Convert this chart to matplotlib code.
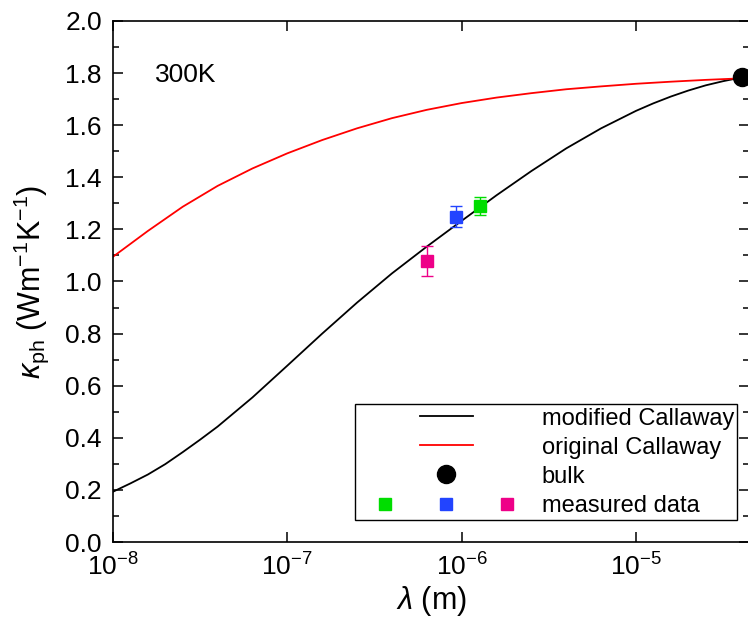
import matplotlib
matplotlib.use('Agg')
import matplotlib.pyplot as plt
import numpy as np
from matplotlib.lines import Line2D
from matplotlib.legend_handler import HandlerTuple
from matplotlib.ticker import MultipleLocator, NullLocator, FormatStrFormatter

plt.rcParams['font.family'] = ['Liberation Sans', 'DejaVu Sans']
plt.rcParams['mathtext.fontset'] = 'custom'
plt.rcParams['mathtext.rm'] = 'Liberation Sans'
plt.rcParams['mathtext.it'] = 'Liberation Sans:italic'
plt.rcParams['mathtext.bf'] = 'Liberation Sans:bold'

# ---- data (x given as log10 of lambda in m) ----
mod_log_lambda = [-8.0, -7.9, -7.8, -7.7, -7.6, -7.5, -7.4, -7.2, -7.0, -6.8, -6.6,
                  -6.4, -6.2, -6.0, -5.8, -5.6, -5.4, -5.2, -5.0, -4.9, -4.8,
                  -4.7, -4.6, -4.5, -4.389]
mod_kappa = [0.193, 0.225, 0.259, 0.299, 0.345, 0.393, 0.443, 0.555, 0.677, 0.800, 0.919,
             1.031, 1.134, 1.233, 1.331, 1.424, 1.511, 1.588, 1.655, 1.684, 1.710,
             1.733, 1.753, 1.769, 1.784]

orig_log_lambda = [-8.0, -7.8, -7.6, -7.4, -7.2, -7.0, -6.8, -6.6, -6.4, -6.2, -6.0,
                   -5.8, -5.6, -5.4, -5.2, -5.0, -4.8, -4.6, -4.389]
orig_kappa = [1.095, 1.194, 1.287, 1.367, 1.434, 1.492, 1.543, 1.588, 1.627, 1.659, 1.685,
              1.706, 1.723, 1.738, 1.749, 1.759, 1.767, 1.774, 1.780]

bulk_lambda = [4.08e-5]
bulk_kappa = [1.785]

meas_lambda = [1.27e-6, 9.3e-7, 6.35e-7]
meas_kappa = [1.291, 1.249, 1.079]
meas_err = [0.035, 0.040, 0.058]
meas_colors = ['#00dd00', '#2244ff', '#ee0088']

xtick_vals = [1e-8, 1e-7, 1e-6, 1e-5]
legend_labels = ['modified Callaway', 'original Callaway', 'bulk', 'measured data']

# ---- figure ----
fig = plt.figure(figsize=(7.48, 6.21), dpi=100)
ax = fig.add_axes([113/748, (621-542)/621, (749-113)/748, (542-21)/621])

ax.plot(10.0**np.array(mod_log_lambda), mod_kappa, color='black', lw=1.3)
ax.plot(10.0**np.array(orig_log_lambda), orig_kappa, color='#ff0000', lw=1.3)
ax.plot(bulk_lambda, bulk_kappa, 'o', color='black', ms=13, clip_on=False, zorder=5)
for lx, k, e, c in zip(meas_lambda, meas_kappa, meas_err, meas_colors):
    ax.errorbar([lx], [k], yerr=[e], fmt='s', color=c, ecolor=c, ms=9,
                capsize=4.5, elinewidth=1, capthick=1, zorder=4)

ax.set_xscale('log')
ax.set_xlim(1e-8, 4.45e-5)
ax.set_ylim(0, 2.0)
ax.set_xticks(xtick_vals)
ax.xaxis.set_minor_locator(NullLocator())
ax.yaxis.set_major_locator(MultipleLocator(0.2))
ax.yaxis.set_minor_locator(MultipleLocator(0.1))
ax.yaxis.set_major_formatter(FormatStrFormatter('%.1f'))
ax.tick_params(which='both', direction='in', top=True, right=True, width=1.1)
ax.tick_params(which='major', length=7, labelsize=19, pad=8)
ax.tick_params(which='minor', length=4)
for s in ax.spines.values():
    s.set_linewidth(1.2)

ax.set_xlabel(r'$\lambda$ (m)', fontsize=22, labelpad=3)
ax.set_ylabel(r'$\kappa_{\rm ph}$ (Wm$^{-1}$K$^{-1}$)', fontsize=22, labelpad=10)

ax.text(0.066, 0.896, '300K', transform=ax.transAxes, fontsize=19,
        ha='left', va='center')

# ---- legend ----
empty = Line2D([], [], linestyle='none', marker=None)
h_mod = (empty, Line2D([], [], color='black', lw=1.3), empty)
h_orig = (empty, Line2D([], [], color='#ff0000', lw=1.3), empty)
h_bulk = (empty, Line2D([], [], linestyle='none', marker='o', color='black', ms=13), empty)
h_meas = tuple(Line2D([], [], linestyle='none', marker='s', color=c, ms=9) for c in meas_colors)

leg = fig.legend([h_mod, h_orig, h_bulk, h_meas], legend_labels,
                 handler_map={tuple: HandlerTuple(ndivide=None, pad=0.3)},
                 loc='upper left', bbox_to_anchor=(355/748, (621-404)/621),
                 borderaxespad=0, fontsize=17, handlelength=7.45, handletextpad=0.3,
                 borderpad=0.15, labelspacing=0.3, frameon=True, fancybox=False,
                 framealpha=1, edgecolor='black')
leg.get_frame().set_linewidth(1.0)

fig.savefig('out.png', dpi=100)
